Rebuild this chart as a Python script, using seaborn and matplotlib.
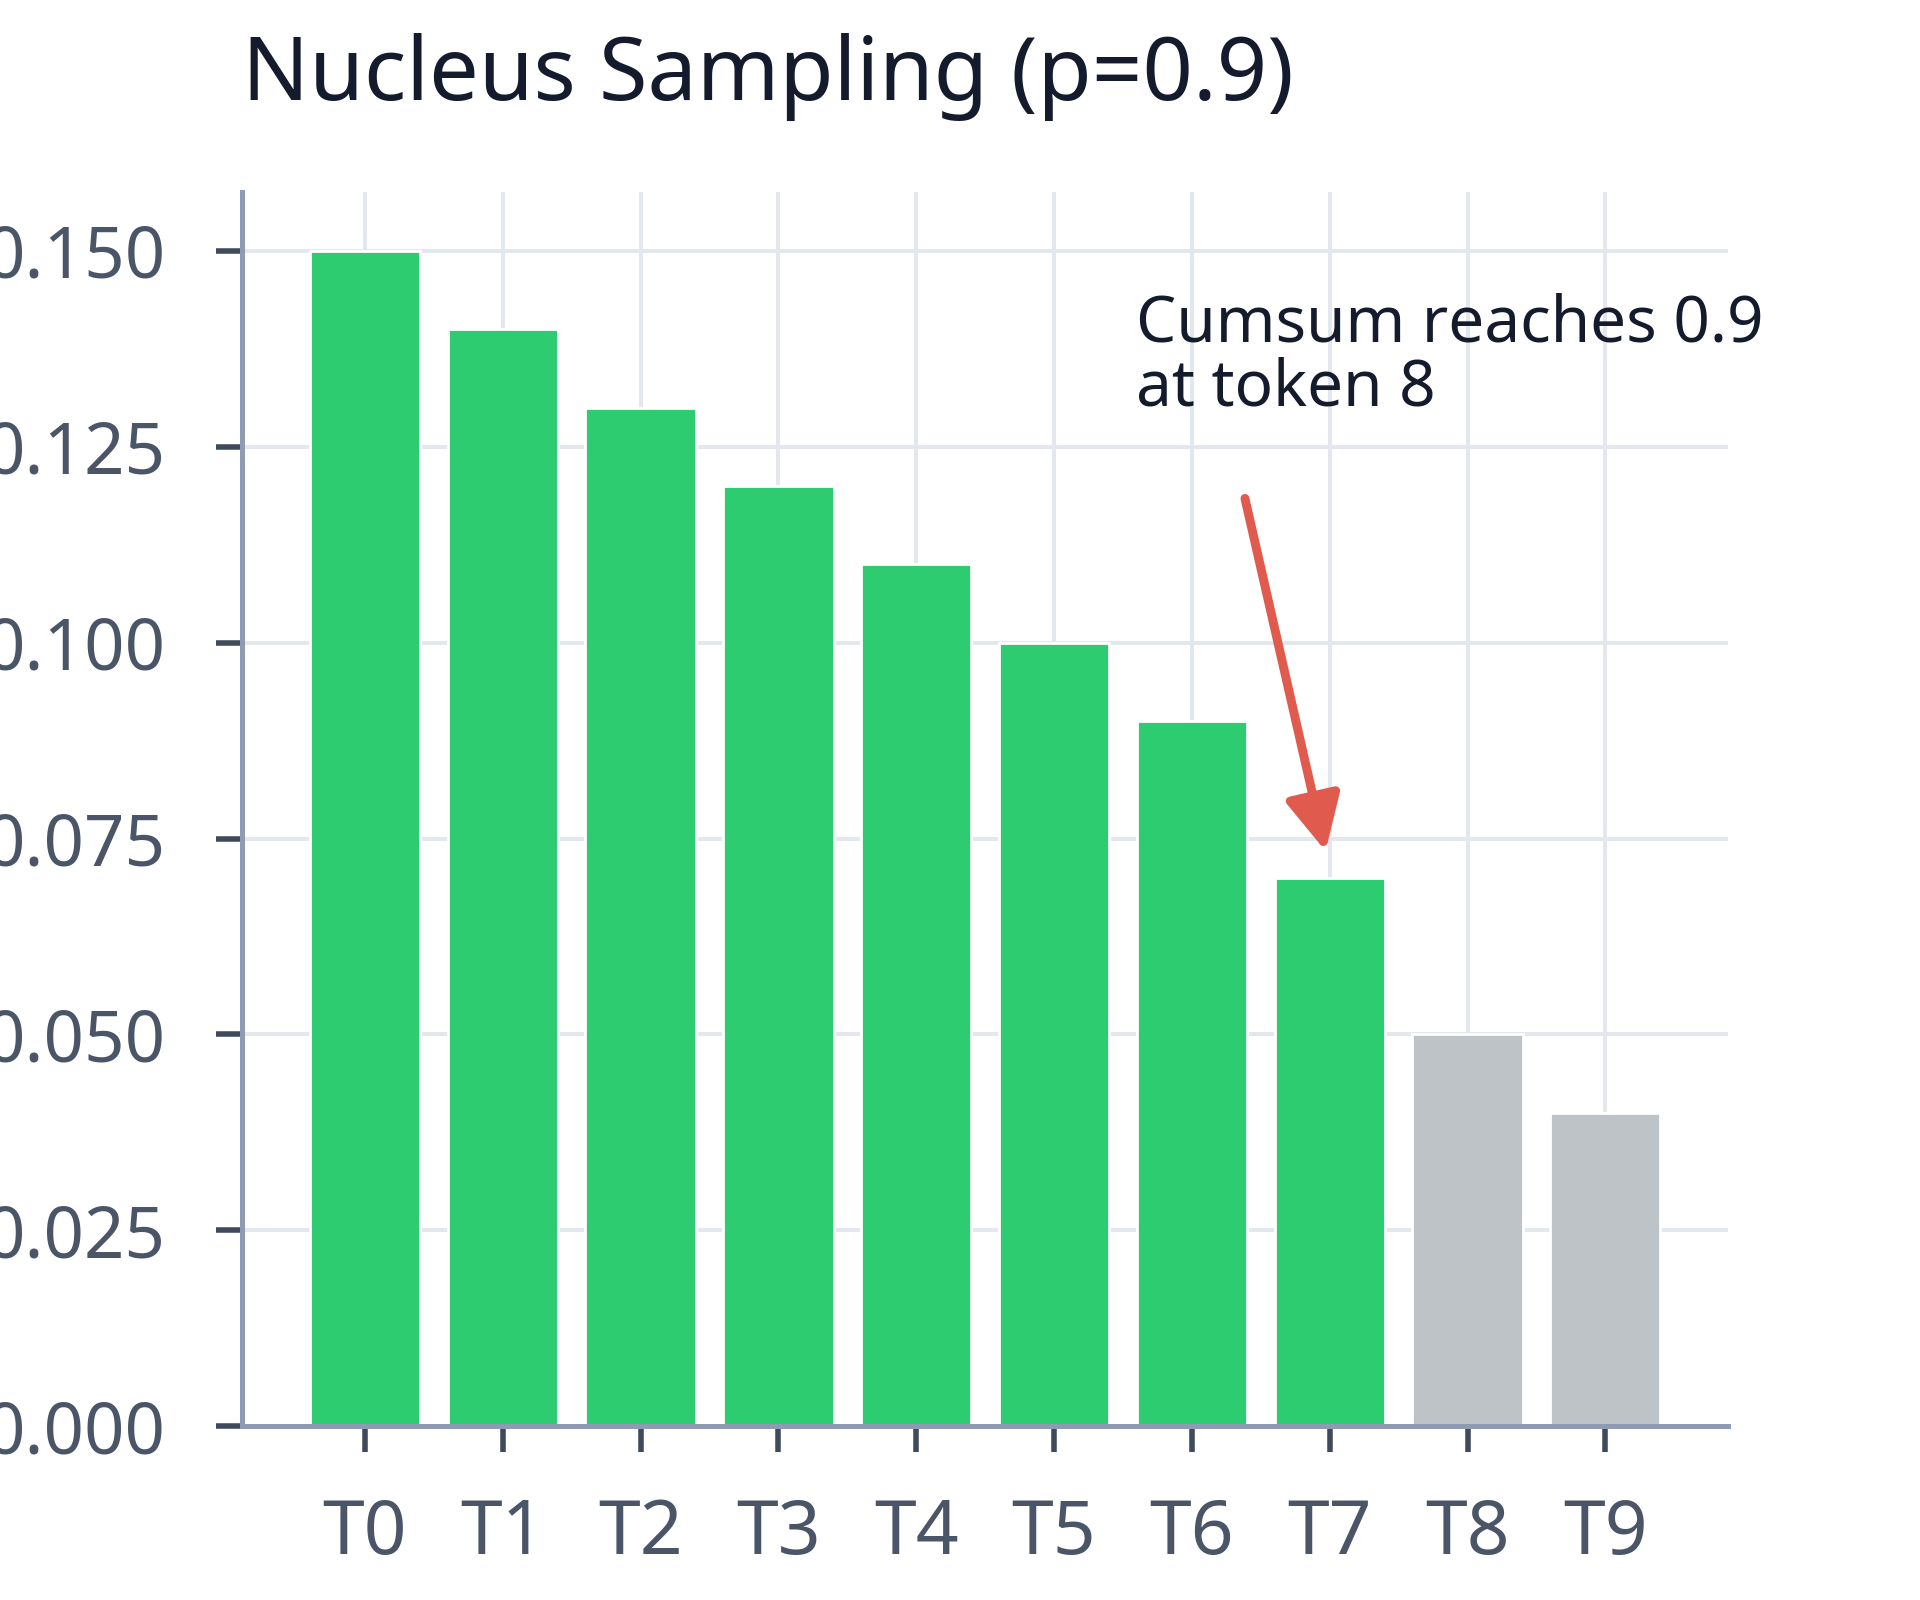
import matplotlib
matplotlib.use('Agg')
import matplotlib.pyplot as plt
import seaborn as sns
import pandas as pd

# token probabilities, sorted descending
tokens = ['T0', 'T1', 'T2', 'T3', 'T4', 'T5', 'T6', 'T7', 'T8', 'T9']
probs = [0.15, 0.14, 0.13, 0.12, 0.11, 0.10, 0.09, 0.07, 0.05, 0.04]
in_nucleus = [True, True, True, True, True, True, True, True, False, False]

title = 'Nucleus Sampling (p=0.9)'
note = 'Cumsum reaches 0.9\nat token 8'
yticks = [0.0, 0.025, 0.05, 0.075, 0.1, 0.125, 0.15]

df = pd.DataFrame({'token': tokens, 'prob': probs,
                   'kept': ['kept' if k else 'cut' for k in in_nucleus]})

sns.set_theme(style='white')
plt.rcParams['font.family'] = ['Noto Sans', 'DejaVu Sans']

fig = plt.figure(figsize=(9.6, 8), dpi=200)
ax = fig.add_axes([0.1262, 0.1086, 0.7738, 0.7714])

sns.barplot(data=df, x='token', y='prob', hue='kept', dodge=False,
            palette={'kept': '#2ecc71', 'cut': '#bdc3c7'}, width=0.8,
            saturation=1, legend=False, ax=ax, zorder=2)

ax.set_xlim(-0.89, 9.89)
ax.set_ylim(0, 0.1575)
ax.set_yticks(yticks)
ax.set_yticklabels(['%.3f' % v for v in yticks])
ax.set_xlabel('')
ax.set_ylabel('')

ax.grid(True, color='#e3e7ee', linewidth=1.4, zorder=0)
ax.set_axisbelow(True)
for s in ['top', 'right']:
    ax.spines[s].set_visible(False)
for s in ['left', 'bottom']:
    ax.spines[s].set_color('#8f9bb3')
    ax.spines[s].set_linewidth(1.8)
ax.tick_params(axis='both', bottom=True, left=True, length=9.5, width=2.0,
               color='#3f4a5c', labelcolor='#4a5568')
ax.tick_params(axis='y', pad=18, labelsize=25.5)
ax.tick_params(axis='x', pad=16, labelsize=27)

ax.set_title(title, loc='left', fontsize=31.8, color='#141b2d', pad=33)

ax.annotate('', xy=(6.97, 0.0734), xytext=(6.385, 0.1184),
            arrowprops=dict(arrowstyle='-|>', color='#e05a4d', lw=3.2,
                            mutation_scale=42, shrinkA=0, shrinkB=0))
ax.text(5.595, 0.1447, note, fontsize=23, color='#141b2d', va='top', ha='left',
        linespacing=1.0)

fig.savefig('out.png', dpi=200)
